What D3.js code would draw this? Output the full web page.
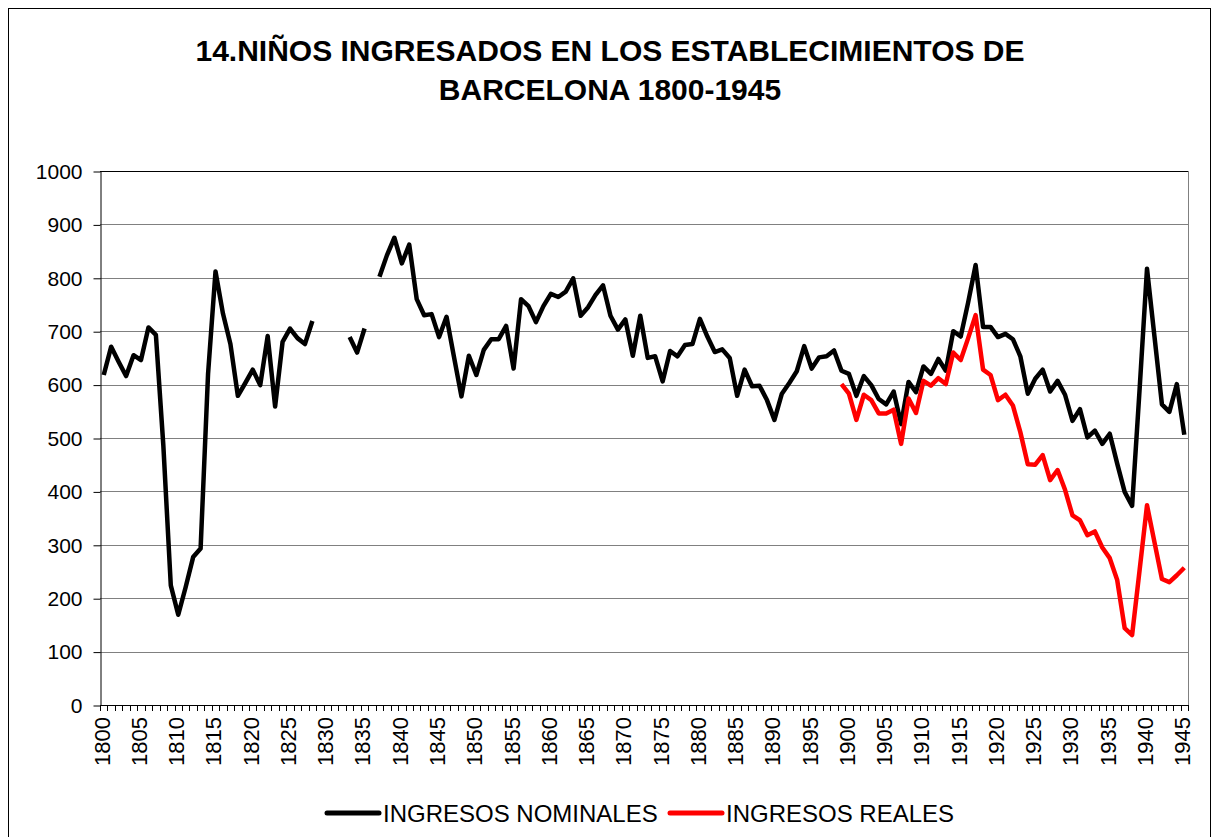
<!DOCTYPE html>
<html lang="es">
	<head>
		<meta charset="utf-8">
		<title>Niños ingresados en los establecimientos de Barcelona 1800-1945</title>
		<script type="text/javascript" src="https://cdn.jsdelivr.net/npm/d3@7"></script>
		<style type="text/css">
			body { margin: 0; background: #fff; }
			text { font-family: "Liberation Sans", Arial, sans-serif; fill: #000; }
		</style>
	</head>
	<body>
		<script type="text/javascript">
			//Width and height
			var w = 1215;
			var h = 837;

			//Years on the category axis
			var years = d3.range(1800, 1946);

			//Ingresos nominales (null = no data)
			var nominales = [
				618, 671, 643, 616, 655, 646, 707, 693, 486, 224,   //1800-1809
				169, 221, 277, 293, 620, 812, 733, 676, 579, 603,   //1810-1819
				628, 599, 691, 559, 680, 705, 687, 676, 719, null,  //1820-1829
				null, null, null, 689, 660, 705, null, 802, 842, 875, //1830-1839
				827, 862, 760, 730, 732, 689, 727, 652, 578, 654,   //1840-1849
				618, 665, 685, 685, 710, 630, 760, 747, 717, 747,   //1850-1859
				770, 764, 774, 799, 729, 745, 768, 786, 729, 703,   //1860-1869
				722, 654, 729, 650, 653, 606, 663, 653, 674, 676,   //1870-1879
				723, 690, 661, 666, 650, 579, 628, 597, 598, 571,   //1880-1889
				534, 583, 603, 625, 672, 630, 651, 653, 664, 626,   //1890-1899
				620, 579, 616, 599, 573, 563, 587, 526, 605, 586,   //1900-1909
				634, 620, 648, 626, 700, 690, 754, 824, 708, 708,   //1910-1919
				689, 695, 685, 653, 583, 611, 628, 587, 607, 581,   //1920-1929
				532, 554, 501, 514, 489, 508, 452, 399, 373, 590,   //1930-1939
				817, 690, 563, 549, 601, 506                        //1940-1945
			];

			//Ingresos reales, 1899-1945
			var realesStart = 1899;
			var reales = [
				601,                                                //1899
				583, 534, 581, 571, 546, 546, 553, 489, 574, 547,   //1900-1909
				607, 598, 612, 601, 660, 646, 687, 730, 628, 618,   //1910-1919
				571, 581, 561, 511, 451, 450, 468, 421, 440, 403,   //1920-1929
				355, 346, 318, 325, 295, 275, 234, 144, 131, 252,   //1930-1939
				374, 305, 236, 230, 243, 257                        //1940-1945
			];

			var yTicks = d3.range(0, 1001, 100);
			var labelYears = years.filter(function(d) { return d % 5 === 0; });

			var seriesNames = ["INGRESOS NOMINALES", "INGRESOS REALES"];
			var seriesColors = ["#000000", "#ff0000"];

			var title = ["14.NIÑOS INGRESADOS EN LOS ESTABLECIMIENTOS DE",
			             "BARCELONA 1800-1945"];

			//Build point lists
			var nomData = years.map(function(y, i) { return { year: y, v: nominales[i] }; });
			var realData = reales.map(function(v, i) { return { year: realesStart + i, v: v }; });

			//Plot area
			var plotLeft = 100, plotRight = 1188, plotTop = 171, plotBottom = 705;

			var x = d3.scalePoint()
							.domain(years)
							.range([plotLeft, plotRight])
							.padding(0.5);
			var step = x.step();

			var y = d3.scaleLinear()
							.domain([0, 1000])
							.range([plotBottom, plotTop]);

			//Create SVG element
			var svg = d3.select("body")
							.append("svg")
							.attr("width", w)
							.attr("height", h);

			//Chart border
			svg.append("rect")
				.attr("x", 8.5)
				.attr("y", 8.5)
				.attr("width", 1202)
				.attr("height", 840)
				.attr("fill", "#fff")
				.attr("stroke", "#000")
				.attr("stroke-width", 1);

			//Title
			svg.append("text")
				.attr("text-anchor", "middle")
				.style("font-size", "30px")
				.style("font-weight", "bold")
				.selectAll("tspan")
				.data(title)
				.enter()
				.append("tspan")
				.attr("x", 610)
				.attr("y", function(d, i) { return 61 + i * 39; })
				.text(function(d) { return d; });

			//Gridlines
			svg.append("g")
				.selectAll("line")
				.data(yTicks)
				.enter()
				.append("line")
				.attr("x1", plotLeft)
				.attr("x2", plotRight)
				.attr("y1", function(d) { return Math.round(y(d)) + 0.5; })
				.attr("y2", function(d) { return Math.round(y(d)) + 0.5; })
				.attr("stroke", function(d) { return d === 1000 ? "#000" : "#808080"; })
				.attr("stroke-width", 1);

			//Right edge of plot area
			svg.append("line")
				.attr("x1", plotRight + 0.5).attr("x2", plotRight + 0.5)
				.attr("y1", plotTop).attr("y2", plotBottom)
				.attr("stroke", "#808080");

			//Y axis
			var yAxis = d3.axisLeft(y)
							.tickValues(yTicks)
							.tickFormat(d3.format("d"))
							.tickSize(7)
							.tickPadding(11)
							.tickSizeOuter(0);

			var gy = svg.append("g")
				.attr("transform", "translate(" + (plotLeft + 0.5) + ",0.5)")
				.call(yAxis);
			gy.attr("font-family", null).attr("font-size", null);
			gy.selectAll("text").style("font-size", "21px");
			gy.selectAll("line, path").attr("stroke", "#000");

			//X axis line and category ticks
			var gx = svg.append("g");
			gx.append("line")
				.attr("x1", plotLeft).attr("x2", plotRight + 1)
				.attr("y1", plotBottom + 0.5).attr("y2", plotBottom + 0.5)
				.attr("stroke", "#000");

			function tickX(d) {
				var px = d === null ? x(1945) + step / 2 : x(d) - step / 2;
				return Math.round(px) + 0.5;
			}

			gx.selectAll("line.tick")
				.data(years.concat([null]))
				.enter()
				.append("line")
				.attr("class", "tick")
				.attr("x1", tickX)
				.attr("x2", tickX)
				.attr("y1", plotBottom)
				.attr("y2", plotBottom + 6)
				.attr("stroke", "#000");

			gx.selectAll("text")
				.data(labelYears)
				.enter()
				.append("text")
				.attr("transform", function(d) {
					return "translate(" + (x(d) - 2) + "," + 717 + ") rotate(-90)";
				})
				.attr("text-anchor", "end")
				.attr("dy", "0.36em")
				.style("font-size", "22px")
				.text(function(d) { return d; });

			//Lines
			var line = d3.line()
							.defined(function(d) { return d.v !== null; })
							.x(function(d) { return x(d.year); })
							.y(function(d) { return y(d.v); });

			svg.append("path")
				.datum(nomData)
				.attr("d", line)
				.attr("fill", "none")
				.attr("stroke", seriesColors[0])
				.attr("stroke-width", 4.5)
				.attr("stroke-linejoin", "round");

			svg.append("path")
				.datum(realData)
				.attr("d", line)
				.attr("fill", "none")
				.attr("stroke", seriesColors[1])
				.attr("stroke-width", 4.5)
				.attr("stroke-linejoin", "round");

			//Legend
			var legendX = [327, 670];
			var legend = svg.selectAll("g.legend")
				.data(seriesNames)
				.enter()
				.append("g")
				.attr("class", "legend")
				.attr("transform", function(d, i) { return "translate(" + legendX[i] + ",813)"; });

			legend.append("line")
				.attr("x1", 0).attr("x2", 52)
				.attr("y1", 0).attr("y2", 0)
				.attr("stroke", function(d, i) { return seriesColors[i]; })
				.attr("stroke-width", 5)
				.attr("stroke-linecap", "round");

			legend.append("text")
				.attr("x", 56)
				.attr("y", 9)
				.style("font-size", "24px")
				.text(function(d) { return d; });

		</script>
	</body>
</html>
